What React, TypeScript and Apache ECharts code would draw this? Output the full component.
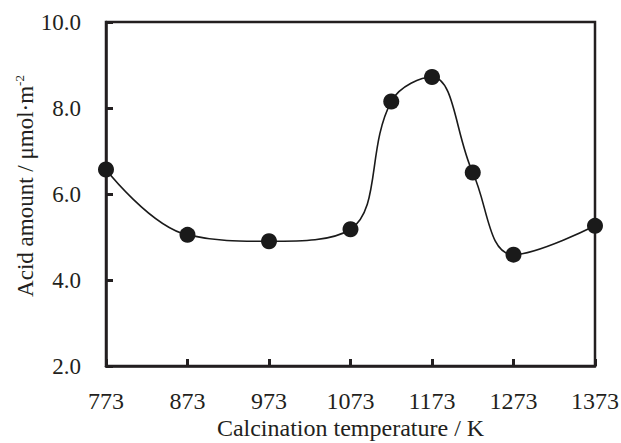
import React, { useEffect, useRef } from "react";
import * as echarts from "echarts";

const temperatures = [773, 873, 973, 1073, 1123, 1173, 1223, 1273, 1373];
const acidAmounts = [6.57, 5.05, 4.9, 5.18, 8.15, 8.72, 6.5, 4.59, 5.26];
const xTicks = [773, 873, 973, 1073, 1173, 1273, 1373];
const yTicks = [2.0, 4.0, 6.0, 8.0, 10.0];

const FONT = "'Liberation Serif', 'DejaVu Serif', serif";
const INK = "#231f20";

export default function App() {
  const ref = useRef<HTMLDivElement>(null);
  useEffect(() => {
    if (!ref.current) return;
    const chart = echarts.init(ref.current, null, { renderer: "svg" });
    chart.setOption({
      animation: false,
      backgroundColor: "#ffffff",
      grid: {
        left: 106,
        top: 22,
        right: 26,
        bottom: 77,
        outerBoundsMode: "none",
        containLabel: false,
        show: true,
        borderColor: INK,
        borderWidth: 2.5,
        backgroundColor: "transparent",
      },
      xAxis: {
        type: "value",
        min: xTicks[0],
        max: xTicks[xTicks.length - 1],
        interval: 100,
        name: "Calcination temperature / K",
        nameLocation: "middle",
        nameMoveOverlap: false,
        nameGap: 50,
        nameTextStyle: { fontFamily: FONT, fontSize: 24, color: INK },
        axisLine: { show: true, lineStyle: { color: INK, width: 2.5 } },
        axisTick: { show: true, inside: true, length: 7, lineStyle: { color: INK, width: 3 } },
        axisLabel: {
          fontFamily: FONT,
          fontSize: 24,
          color: INK,
          margin: 23,
          formatter: (v: number) => (xTicks.includes(v) ? String(v) : ""),
        },
        splitLine: { show: false },
      },
      yAxis: {
        type: "value",
        min: yTicks[0],
        max: yTicks[yTicks.length - 1],
        interval: 2,
        name: "Acid amount / μmol·m{sup|-2}",
        nameLocation: "middle",
        nameMoveOverlap: false,
        nameGap: 68,
        nameTextStyle: {
          fontFamily: FONT,
          fontSize: 23,
          color: INK,
          padding: [0, 0, 0, 16],
          rich: {
            sup: { fontFamily: FONT, fontSize: 13, color: INK, verticalAlign: "top", padding: [0, 0, 12, 0] },
          },
        },
        axisLine: { show: true, lineStyle: { color: INK, width: 2.5 } },
        axisTick: { show: true, inside: true, length: 7, lineStyle: { color: INK, width: 3 } },
        axisLabel: {
          fontFamily: FONT,
          fontSize: 23,
          color: INK,
          margin: 25,
          formatter: (v: number) => v.toFixed(1),
        },
        splitLine: { show: false },
      },
      series: [
        {
          type: "line",
          data: temperatures.map((t, i) => [t, acidAmounts[i]]),
          smooth: 0.4,
          symbol: "circle",
          symbolSize: 16,
          itemStyle: { color: "#1a1a1a" },
          lineStyle: { color: "#1a1a1a", width: 1.6 },
          clip: false,
        },
      ],
    });
    return () => chart.dispose();
  }, []);
  return (
    <div
      ref={ref}
      style={{ position: "fixed", left: 0, top: 0, width: 621, height: 443 }}
    />
  );
}
